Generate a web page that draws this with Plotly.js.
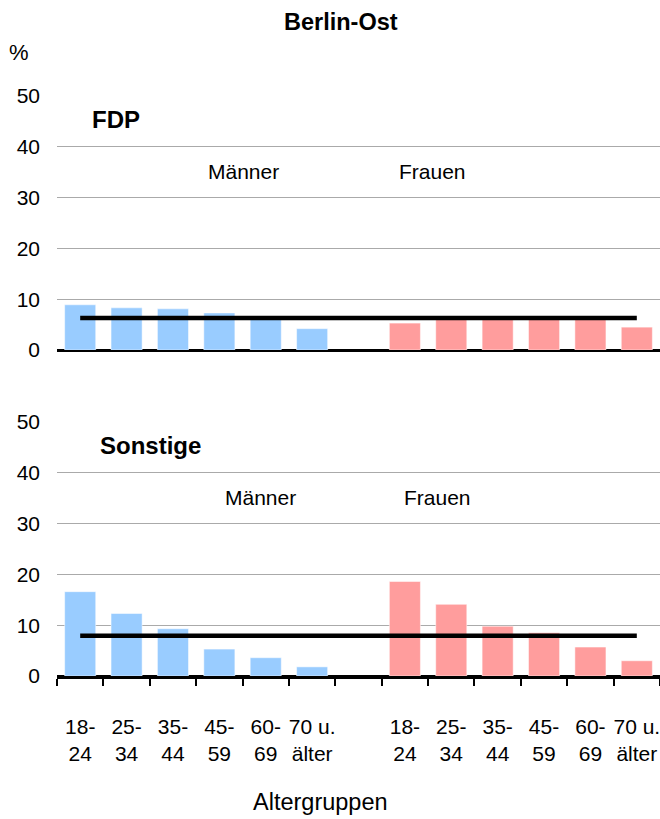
<!DOCTYPE html>
<html>
<head>
<meta charset="utf-8">
<script src="https://cdn.plot.ly/plotly-3.0.1.min.js"></script>
<style>
  body { margin: 0; background: #fff; }
  #chart { width: 660px; height: 819px; }
</style>
</head>
<body>
<div id="chart"></div>
<script>
// Altersgruppen (Kategorien)
var gruppen = ["18-<br>24", "25-<br>34", "35-<br>44", "45-<br>59", "60-<br>69", "70 u.<br>älter"];

// FDP, Berlin-Ost
var fdpMaenner = [8.9, 8.3, 8.1, 7.3, 6.1, 4.2];
var fdpFrauen = [5.3, 6.0, 6.1, 6.0, 6.1, 4.5];
var fdpGesamt = 6.3;

// Sonstige, Berlin-Ost
var sonstMaenner = [16.6, 12.3, 9.3, 5.3, 3.6, 1.8];
var sonstFrauen = [18.6, 14.1, 9.8, 8.5, 5.7, 3.0];
var sonstGesamt = 7.9;

var yWerte = [0, 10, 20, 30, 40, 50];

var blau = "#99ccff";
var rosa = "#ff9d9d";

// Maenner links (0..5), Luecke, Frauen rechts (7..12)
var xMaenner = gruppen.map(function (g, i) { return i; });
var xFrauen = gruppen.map(function (g, i) { return i + gruppen.length + 1; });
var xAlle = xMaenner.concat(xFrauen);
var textAlle = gruppen.concat(gruppen);
var xMax = xFrauen[xFrauen.length - 1];

function balken(x, y, farbe, xa, ya) {
    return {
        x: x, y: y, type: "bar", xaxis: xa, yaxis: ya,
        marker: { color: farbe, line: { color: "#ffffff", width: 0.5 } },
        hoverinfo: "skip"
    };
}

function linie(wert, xa, ya) {
    return {
        x: [0, xMax], y: [wert, wert], type: "scatter", mode: "lines",
        xaxis: xa, yaxis: ya,
        line: { color: "#000000", width: 4.5 },
        hoverinfo: "skip"
    };
}

var data = [
    balken(xMaenner, fdpMaenner, blau, "x2", "y2"),
    balken(xFrauen, fdpFrauen, rosa, "x2", "y2"),
    linie(fdpGesamt, "x2", "y2"),
    balken(xMaenner, sonstMaenner, blau, "x", "y"),
    balken(xFrauen, sonstFrauen, rosa, "x", "y"),
    linie(sonstGesamt, "x", "y")
];

var schrift = "Liberation Sans, Arial, sans-serif";

function yAchse(domain) {
    return {
        domain: domain, range: [0, 50], tickvals: yWerte,
        showgrid: true, gridcolor: "#aaaaaa", gridwidth: 1,
        zeroline: true, zerolinecolor: "#000000", zerolinewidth: 3,
        showline: false, ticks: "", ticklabelstandoff: 16,
        tickfont: { family: schrift, size: 21, color: "#000" },
        fixedrange: true
    };
}

var layout = {
    width: 660, height: 819,
    margin: { l: 0, r: 0, t: 0, b: 0 },
    paper_bgcolor: "#ffffff", plot_bgcolor: "#ffffff",
    showlegend: false,
    bargap: 0.33,
    font: { family: schrift, color: "#000" },
    xaxis: {
        domain: [57 / 660, 1], range: [-0.5, xMax + 0.5], anchor: "y",
        tickmode: "array", tickvals: xAlle, ticktext: textAlle,
        ticks: "", showgrid: false, zeroline: false,
        showline: true, linecolor: "#000", linewidth: 2.5,
        ticklabelstandoff: 30, ticklabeloverflow: "allow",
        tickfont: { family: "Liberation Sans Narrow, Arial Narrow, sans-serif", size: 21, color: "#000" },
        minor: { tick0: -0.5, dtick: 1, ticks: "outside", ticklen: 7, tickwidth: 2, tickcolor: "#000", showgrid: false },
        fixedrange: true
    },
    xaxis2: {
        domain: [57 / 660, 1], range: [-0.5, xMax + 0.5], anchor: "y2",
        showticklabels: false, ticks: "", showgrid: false, zeroline: false, showline: false,
        fixedrange: true
    },
    yaxis: yAchse([1 - 676 / 819, 1 - 422 / 819]),
    yaxis2: Object.assign(yAchse([1 - 350 / 819, 1 - 96 / 819]), { anchor: "x2" }),
    annotations: [
        { text: "<b>Berlin-Ost</b>", x: 341 / 660, y: 1 - 22 / 819, size: 23.5 },
        { text: "%", x: 19 / 660, y: 1 - 52 / 819, size: 22 },
        { text: "<b>FDP</b>", x: 116 / 660, y: 1 - 119 / 819, size: 24 },
        { text: "Männer", x: 243 / 660, y: 1 - 171 / 819, size: 21 },
        { text: "Frauen", x: 432 / 660, y: 1 - 171 / 819, size: 21 },
        { text: "<b>Sonstige</b>", x: 150 / 660, y: 1 - 446 / 819, size: 24 },
        { text: "Männer", x: 260 / 660, y: 1 - 498 / 819, size: 21 },
        { text: "Frauen", x: 437 / 660, y: 1 - 498 / 819, size: 21 },
        { text: "Altergruppen", x: 320 / 660, y: 1 - 802 / 819, size: 23.5 }
    ].map(function (a) {
        return {
            text: a.text, x: a.x, y: a.y, xref: "paper", yref: "paper",
            xanchor: "center", yanchor: "middle", showarrow: false,
            font: { family: schrift, size: a.size, color: "#000" }
        };
    })
};

Plotly.newPlot("chart", data, layout, { displayModeBar: false, staticPlot: true });
</script>
</body>
</html>
